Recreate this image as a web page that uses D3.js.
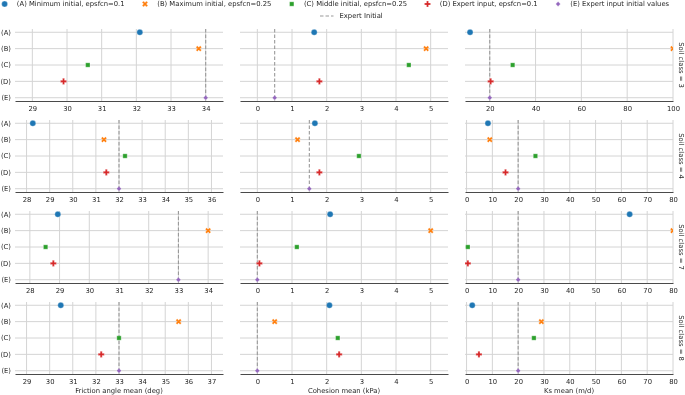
<!DOCTYPE html>
<html><head><meta charset="utf-8">
<script src="https://cdn.jsdelivr.net/npm/d3@7"></script>
<style>
html,body{margin:0;padding:0;background:#fff;}
svg{will-change:transform;}
svg text{font-family:"DejaVu Sans",sans-serif;fill:#262626;}
</style></head>
<body>
<svg id="chart" width="685" height="395"></svg>
<script>
// ---------------- data ----------------
const categories = ["(A)", "(B)", "(C)", "(D)", "(E)"];
const seriesLabels = [
  "(A) Minimum initial, epsfcn=0.1",
  "(B) Maximum initial, epsfcn=0.25",
  "(C) Middle initial, epsfcn=0.25",
  "(D) Expert input, epsfcn=0.1",
  "(E) Expert input initial values"
];
const expertLabel = "Expert Initial";
const soilClasses = [3, 4, 7, 8];
const xLabels = ["Friction angle mean (deg)", "Cohesion mean (kPa)", "Ks mean (m/d)"];

// values per soil class, in order A..E
const friction3 = [32.1, 33.8, 30.6, 29.9, 34.0];
const friction4 = [28.27, 31.35, 32.26, 31.45, 32.0];
const friction7 = [28.94, 34.0, 28.53, 28.79, 33.0];
const friction8 = [30.48, 35.58, 33.0, 32.23, 33.0];
const cohesion3 = [1.64, 4.87, 4.37, 1.79, 0.5];
const cohesion4 = [1.66, 1.16, 2.93, 1.79, 1.5];
const cohesion7 = [2.1, 5.0, 1.14, 0.06, 0.0];
const cohesion8 = [2.08, 0.5, 2.32, 2.36, 0.0];
const ks3 = [11.4, 100, 30, 20.4, 20];
const ks4 = [8.3, 9.0, 26.7, 15.1, 20];
const ks7 = [63.2, 80, 0.5, 0.5, 20];
const ks8 = [2.2, 29, 26.1, 4.8, 20];

// expert initial values (dashed line), per soil class
const expertFriction = [34, 32, 33, 33];
const expertCohesion = [0.5, 1.5, 0, 0];
const expertKs = [20, 20, 20, 20];

// tick labels
const frictionTicks = [
  [29, 30, 31, 32, 33, 34],
  [28, 29, 30, 31, 32, 33, 34, 35, 36],
  [28, 29, 30, 31, 32, 33, 34],
  [29, 30, 31, 32, 33, 34, 35, 36, 37]
];
const cohesionTicks = [0, 1, 2, 3, 4, 5];
const ksTicks = [
  [20, 40, 60, 80, 100],
  [0, 10, 20, 30, 40, 50, 60, 70, 80],
  [0, 10, 20, 30, 40, 50, 60, 70, 80],
  [0, 10, 20, 30, 40, 50, 60, 70, 80]
];

// ---------------- layout ----------------
const colors = ["#1f77b4", "#ff7f0e", "#2ca02c", "#d62728", "#9467bd"];
const FS = 6.8;
const panelLeft = [15, 240, 465], panelW = 208;
const panelTop = [29, 120, 211, 302], panelH = 72;

const values = [
  [friction3, cohesion3, ks3],
  [friction4, cohesion4, ks4],
  [friction7, cohesion7, ks7],
  [friction8, cohesion8, ks8]
];
const experts = [expertFriction, expertCohesion, expertKs];
function domainFor(r, c) {
  if (c === 0) { const t = frictionTicks[r]; return [t[0] - 0.5, t[t.length - 1] + 0.5]; }
  if (c === 1) return [-0.5, 5.5];
  return r === 0 ? [9.2, 100] : [-0.6, 80];
}
function ticksFor(r, c) { return c === 0 ? frictionTicks[r] : c === 1 ? cohesionTicks : ksTicks[r]; }

// marker paths
function markerPath(i) {
  if (i === 0) return d3.symbol(d3.symbolCircle, Math.PI * 3.0 * 3.0)();
  if (i === 1) return d3.symbol(d3.symbolCross, 21)();      // rotated -> X
  if (i === 2) return d3.symbol(d3.symbolSquare, 19)();
  if (i === 3) return d3.symbol(d3.symbolCross, 21)();
  const s = 2.4; return `M0,${-s}L${s},0L0,${s}L${-s},0Z`;
}
function markerTransform(i, x, y) {
  return `translate(${x},${y})` + (i === 1 ? " rotate(45)" : "");
}

const svg = d3.select("#chart");
const defs = svg.append("defs");

for (let r = 0; r < 4; r++) {
  for (let c = 0; c < 3; c++) {
    const x0 = panelLeft[c], y0 = panelTop[r];
    const x = d3.scaleLinear().domain(domainFor(r, c)).range([x0, x0 + panelW]);
    const y = d3.scaleLinear().domain([-0.2, 4.2]).range([y0, y0 + panelH]);
    const g = svg.append("g");
    const clipId = `clip-${r}-${c}`;
    defs.append("clipPath").attr("id", clipId).append("rect")
      .attr("x", x0).attr("y", y0).attr("width", panelW).attr("height", panelH);

    // vertical grid
    g.selectAll(".vg").data(ticksFor(r, c)).join("line")
      .attr("x1", d => x(d)).attr("x2", d => x(d))
      .attr("y1", y0).attr("y2", y0 + panelH)
      .attr("stroke", "#d4d4d4").attr("stroke-width", 1);
    // horizontal grid
    g.selectAll(".hg").data(d3.range(categories.length)).join("line")
      .attr("x1", x0).attr("x2", x0 + panelW)
      .attr("y1", d => y(d)).attr("y2", d => y(d))
      .attr("stroke", "#d4d4d4").attr("stroke-width", 1);

    // bottom axis
    const axis = d3.axisBottom(x).tickValues(ticksFor(r, c)).tickSize(0).tickPadding(4)
      .tickFormat(d3.format("d"));
    const ag = g.append("g").attr("transform", `translate(0,${y0 + panelH})`).call(axis);
    ag.select(".domain").attr("stroke", "#4a4a4a").attr("stroke-width", 1);
    ag.selectAll("text").attr("font-size", FS).attr("font-family", "DejaVu Sans").attr("fill", "#262626").attr("dy", "0.95em");

    // expert dashed line
    g.append("line")
      .attr("x1", x(experts[c][r])).attr("x2", x(experts[c][r]))
      .attr("y1", y0).attr("y2", y0 + panelH)
      .attr("stroke", "#9a9a9a").attr("stroke-width", 1.1).attr("stroke-dasharray", "3.5,2");

    // markers
    const mg = g.append("g").attr("clip-path", `url(#${clipId})`);
    mg.selectAll("path").data(values[r][c]).join("path")
      .attr("d", (d, i) => markerPath(i))
      .attr("transform", (d, i) => markerTransform(i, x(d), y(i)))
      .attr("fill", (d, i) => colors[i])
      .attr("stroke", "#fff").attr("stroke-width", 0.3);

    // y labels in first column
    if (c === 0) {
      g.selectAll(".yl").data(categories).join("text")
        .attr("x", 11).attr("y", (d, i) => y(i)).attr("dy", "0.35em")
        .attr("text-anchor", "end").attr("font-size", FS).text(d => d);
    }
    // row label at right
    if (c === 2) {
      const cx = 681, cy = y0 + panelH / 2;
      g.append("text").attr("transform", `translate(${cx},${cy}) rotate(90)`)
        .attr("text-anchor", "middle").attr("dy", "0.35em").attr("font-size", FS)
        .text(`Soil class = ${soilClasses[r]}`);
    }
    // x labels on last row
    if (r === 3) {
      g.append("text").attr("x", x0 + panelW / 2).attr("y", 391).attr("dy", "0.35em")
        .attr("text-anchor", "middle").attr("font-size", FS).text(xLabels[c]);
    }
  }
}

// ---------------- legend ----------------
const leg = svg.append("g");
const handleLen = 2 * FS, textPad = 0.8 * FS, colSpace = 2 * FS;
let cx = -2.2;
const rowY = 4;
seriesLabels.forEach((lab, i) => {
  const mx = cx + handleLen / 2;
  leg.append("path").attr("d", markerPath(i))
    .attr("transform", markerTransform(i, mx, rowY))
    .attr("fill", colors[i]).attr("stroke", "#fff").attr("stroke-width", 0.3);
  const t = leg.append("text").attr("x", cx + handleLen + textPad).attr("y", rowY)
    .attr("dy", "0.35em").attr("font-size", FS).text(lab);
  cx = cx + handleLen + textPad + t.node().getComputedTextLength() + colSpace;
});
// second row: expert initial
const row2Y = 16;
leg.append("line").attr("x1", 320).attr("x2", 333.5).attr("y1", row2Y).attr("y2", row2Y)
  .attr("stroke", "#9a9a9a").attr("stroke-width", 1.1).attr("stroke-dasharray", "3.5,2");
leg.append("text").attr("x", 339.5).attr("y", row2Y).attr("dy", "0.35em")
  .attr("font-size", FS).text(expertLabel);
</script>
</body></html>
